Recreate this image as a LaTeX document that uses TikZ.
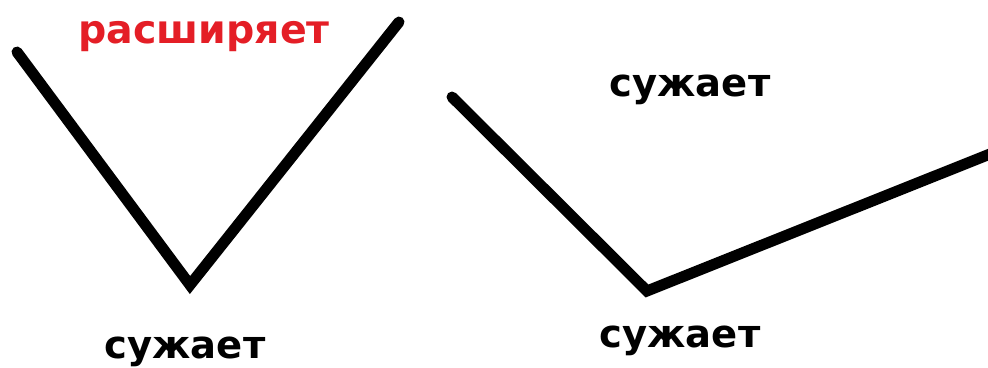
\documentclass[tikz,border=0pt]{standalone}
\usepackage{fontspec}
\setmainfont{DejaVu Sans}
\definecolor{redtxt}{RGB}{228,30,38}
\tikzset{
  stroke/.style={line width=11pt, line cap=round, line join=miter, black},
  lbl/.style={anchor=base, inner sep=0pt, font=\fontsize{38.5}{40}\selectfont\bfseries},
}
\begin{document}
\begin{tikzpicture}[x=1pt,y=-1pt]
\useasboundingbox (0,0) rectangle (988,367);
\coordinate (a1) at (17,52);
\coordinate (a2) at (190,285);
\coordinate (a3) at (399,22);
\coordinate (b1) at (452,97);
\coordinate (b2) at (647,291);
\coordinate (b3) at (995,152);
\draw[stroke] (a1) -- (a2) -- (a3);
\draw[stroke] (b1) -- (b2) -- (b3);
\node[lbl, text=redtxt, font=\fontsize{39.5}{42}\selectfont\bfseries] (t1) at (204,43) {расширяет};
\node[lbl] (t2) at (690,96) {сужает};
\node[lbl] (t3) at (185,358) {сужает};
\node[lbl] (t4) at (680,347) {сужает};
\end{tikzpicture}
\end{document}
